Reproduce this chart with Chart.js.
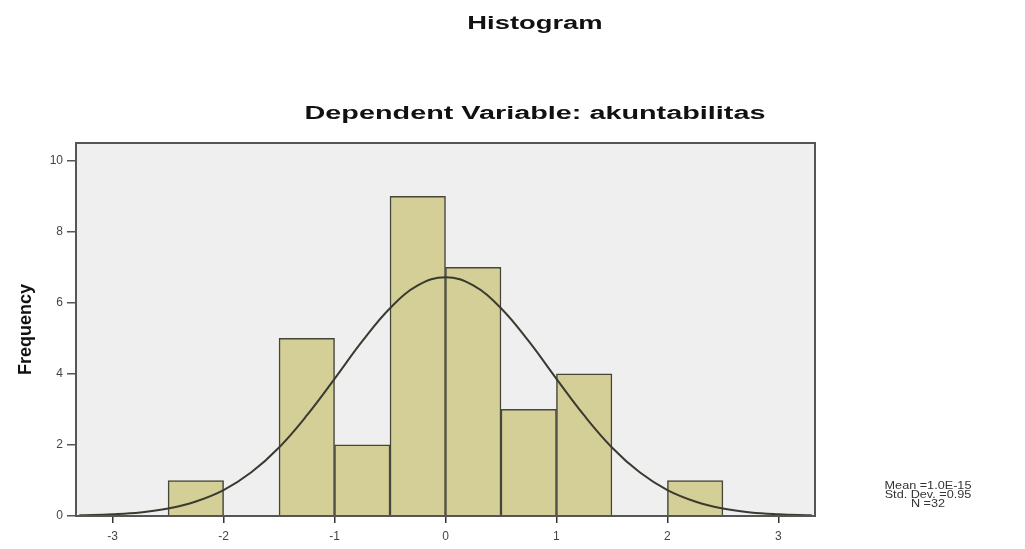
<!DOCTYPE html>
<html>
<head>
<meta charset="utf-8">
<script src="https://cdn.jsdelivr.net/npm/chart.js@4"></script>
<style>
  html, body { margin: 0; padding: 0; background: #ffffff; }
  #wrap { position: relative; width: 1025px; height: 549px; }
  canvas { position: absolute; left: 0; top: 0; }
  .t { position: absolute; font-family: "Liberation Sans", Arial, sans-serif; font-weight: bold; color: #111; white-space: nowrap; font-size: 18px; line-height: 20px; }
  #stats { position: absolute; left: 928px; top: 481px; transform: translateX(-50%) scaleX(1.15); font-family: "Liberation Sans", Arial, sans-serif; font-size: 11px; line-height: 9px; color: #333; text-align: center; white-space: nowrap; }
</style>
</head>
<body>
<div id="wrap">
  <canvas id="c" width="1025" height="549"></canvas>
  <div class="t" style="left:535px; top:13px; transform: translateX(-50%) scaleX(1.52);">Histogram</div>
  <div class="t" style="left:535px; top:103px; transform: translateX(-50%) scaleX(1.6);">Dependent Variable: akuntabilitas</div>
  <div id="stats">Mean =1.0E-15<br>Std. Dev. =0.95<br>N =32</div>
</div>
<script>
// Histogram bins (centers, width 0.5) and frequencies
const binCenters = [-2.25, -1.75, -1.25, -0.75, -0.25, 0.25, 0.75, 1.25, 1.75, 2.25];
const frequencies = [1, 0, 5, 2, 9, 7, 3, 4, 0, 1];

// Normal curve
const curveX = [-3.3, -3.0, -2.75, -2.5, -2.25, -2.0, -1.75, -1.5, -1.25, -1.0, -0.75, -0.5, -0.25, 0,
                0.25, 0.5, 0.75, 1.0, 1.25, 1.5, 1.75, 2.0, 2.25, 2.5, 2.75, 3.0, 3.3];
const curveY = [0.02, 0.05, 0.10, 0.21, 0.41, 0.73, 1.23, 1.93, 2.83, 3.86, 4.92, 5.85, 6.49, 6.72,
                6.49, 5.85, 4.92, 3.86, 2.83, 1.93, 1.23, 0.73, 0.41, 0.21, 0.10, 0.05, 0.02];

const xTicks = [-3, -2, -1, 0, 1, 2, 3];
const yTicks = [0, 2, 4, 6, 8, 10];

const barData = binCenters.map((x, i) => ({ x: x, y: frequencies[i] }));
const curveData = curveX.map((x, i) => ({ x: x, y: curveY[i] }));

const framePlugin = {
  id: 'frame',
  beforeDatasetsDraw(chart) {
    const { ctx, chartArea: a } = chart;
    ctx.save();
    ctx.fillStyle = '#efefef';
    ctx.fillRect(a.left, a.top, a.right - a.left, a.bottom - a.top);
    ctx.restore();
  },
  afterDatasetsDraw(chart) {
    const { ctx, chartArea: a } = chart;
    ctx.save();
    ctx.strokeStyle = '#555555';
    ctx.lineWidth = 2;
    ctx.strokeRect(a.left, a.top, a.right - a.left, a.bottom - a.top);
    ctx.restore();
  }
};

new Chart(document.getElementById('c'), {
  type: 'bar',
  data: {
    datasets: [
      {
        type: 'line',
        data: curveData,
        borderColor: '#3a3a30',
        borderWidth: 2,
        pointRadius: 0,
        tension: 0.4,
        fill: false,
        order: 0
      },
      {
        type: 'bar',
        data: barData,
        backgroundColor: '#d4cf97',
        borderColor: '#45453a',
        borderWidth: 1.5,
        barPercentage: 1.0,
        categoryPercentage: 1.0,
        order: 1
      }
    ]
  },
  options: {
    responsive: false,
    animation: false,
    layout: { padding: { left: 0, right: 210, top: 143, bottom: 0 } },
    plugins: {
      legend: { display: false },
      title: { display: false },
      tooltip: { enabled: false }
    },
    scales: {
      x: {
        type: 'linear',
        min: -3.33,
        max: 3.33,
        offset: false,
        afterBuildTicks(scale) { scale.ticks = xTicks.map(v => ({ value: v })); },
        afterFit(scale) { scale.height = 33; },
        grid: { offset: false, drawOnChartArea: false, drawTicks: true, tickLength: 7, color: '#333333', lineWidth: 1.5 },
        border: { display: false },
        ticks: { color: '#444444', font: { family: 'Liberation Sans, Arial, sans-serif', size: 12 }, padding: 6, maxRotation: 0 }
      },
      y: {
        min: 0,
        max: 10.5,
        afterBuildTicks(scale) { scale.ticks = yTicks.map(v => ({ value: v })); },
        afterFit(scale) { scale.width = 76; },
        grid: { drawOnChartArea: false, drawTicks: true, tickLength: 9, color: '#555555', lineWidth: 1.5 },
        border: { display: false },
        ticks: { color: '#444444', font: { family: 'Liberation Sans, Arial, sans-serif', size: 12 }, padding: 4 },
        title: {
          display: true,
          text: 'Frequency',
          color: '#111111',
          font: { family: 'Liberation Sans, Arial, sans-serif', size: 18, weight: 'bold' },
          padding: { top: 15, bottom: 0 }
        }
      }
    }
  },
  plugins: [framePlugin]
});
</script>
</body>
</html>
